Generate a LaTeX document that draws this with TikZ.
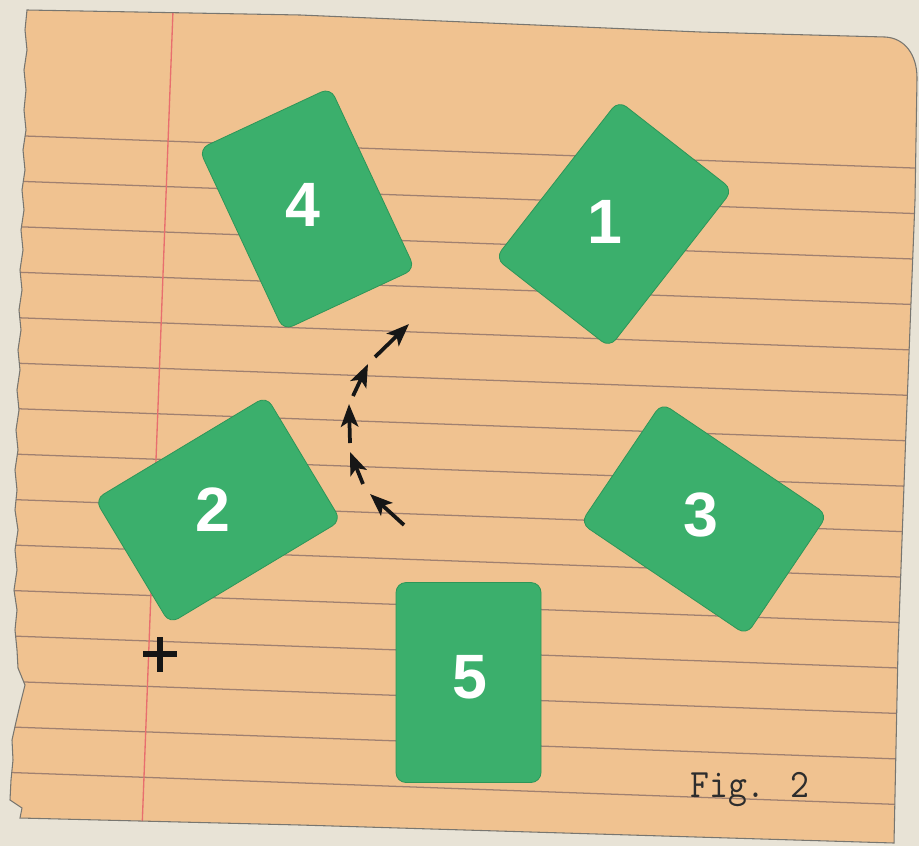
\documentclass[tikz,border=0pt]{standalone}
\usepackage{fontspec}
\newfontfamily\cardfont{Liberation Sans}
\usetikzlibrary{arrows.meta}
\definecolor{bgc}{RGB}{232,227,214}
\definecolor{paper}{RGB}{240,194,144}
\definecolor{rulec}{RGB}{160,128,112}
\definecolor{marginc}{RGB}{232,110,110}
\definecolor{cardg}{RGB}{59,175,108}
\definecolor{cardb}{RGB}{45,150,88}
\definecolor{ink}{RGB}{22,22,22}
\definecolor{edgec}{RGB}{120,118,112}
\tikzset{
  card/.style={rectangle, rounded corners=7.5pt, fill=cardg, draw=cardb, line width=0.6pt,
    minimum width=108.75pt, minimum height=150pt, inner sep=0pt},
  cardnum/.style={text=white, inner sep=0pt, font=\cardfont\bfseries\fontsize{47}{47}\selectfont},
  ruleline/.style={draw=rulec, line width=0.95pt},
  arrowseg/.style={draw=ink, line width=2.8pt, -{Stealth[length=17pt,width=13pt,inset=4pt]}},
  plusbar/.style={draw=ink, line width=4.6pt},
}
\def\paperpath{(27,10) -- (300,15) -- (700,32) -- (885,37)
  .. controls (905,38) and (917,55) .. (917,78)
  -- (915,200) -- (906,430) -- (898,650) -- (894,843)
  -- (300,825) -- (20,818) -- (22,808) -- (10,800) -- (11,780) -- (13,760)
  -- (12,740) -- (16,722) -- (20,705) -- (25,685) -- (18,668) -- (17,650)
  -- (15,630) -- (17,610) -- (14,590) -- (17,570) -- (15,550) -- (18,530)
  -- (15,510) -- (17,490) -- (15,470) -- (18,450) -- (16,430) -- (19,410)
  -- (17,390) -- (20,370) -- (18,350) -- (21,330) -- (19,310) -- (22,290)
  -- (20,270) -- (23,250) -- (21,230) -- (24,210) -- (22,190) -- (25,170)
  -- (23,150) -- (26,130) -- (24,110) -- (26,90) -- (24,70) -- (27,50)
  -- (25,30) -- cycle}
\begin{document}
\begin{tikzpicture}[x=0.75pt,y=-0.75pt]
  \useasboundingbox (0,0) rectangle (919,846);
  \fill[bgc] (0,0) rectangle (919,846);
  % paper
  \fill[paper] \paperpath;
  \begin{scope}
    \clip \paperpath;
    \foreach \k in {0,...,14} {
      \draw[ruleline] (0,{136+45.5*\k-0.9}) -- (919,{136+45.5*\k+32.2});
    }
    \draw[draw=marginc, line width=1pt] (173.4,0) -- (141.6,840);
  \end{scope}
  \draw[draw=edgec, line width=0.8pt] \paperpath;

  % cards
  \node[card, rotate=25] (c4) at (307,209) {};
  \node[card, rotate=-38] (c1) at (614,224) {};
  \node[card, rotate=31, minimum width=150pt, minimum height=108.75pt] (c2) at (218,510) {};
  \node[card, rotate=-34, minimum width=150pt, minimum height=108.75pt] (c3) at (704,519) {};
  \node[card] (c5) at (468.5,682.5) {};

  \node[cardnum] (n4) at (303,205) {4};
  \node[cardnum] (n1) at (605,222) {1};
  \node[cardnum] (n2) at (213,510) {2};
  \node[cardnum] (n3) at (701,515) {3};
  \node[cardnum] (n5) at (470,677) {5};

  % dashed arrow arc
  \coordinate (a0) at (404,525);
  \coordinate (a1) at (370,494);
  \coordinate (a2) at (363,484);
  \coordinate (a3) at (350,452);
  \coordinate (a4) at (350,443);
  \coordinate (a5) at (349,404);
  \coordinate (a6) at (353,396);
  \coordinate (a7) at (368,364);
  \coordinate (a8) at (375,357);
  \coordinate (a9) at (409,324);
  \draw[arrowseg] (a0) -- (a1);
  \draw[arrowseg] (a2) -- (a3);
  \draw[arrowseg] (a4) -- (a5);
  \draw[arrowseg] (a6) -- (a7);
  \draw[arrowseg] (a8) -- (a9);

  % plus sign
  \draw[plusbar] (143,654) -- (177,654);
  \draw[plusbar] (160,637) -- (160,672);

  % caption
  \node[anchor=base west, inner sep=0pt, text=ink!90, yscale=1.1,
        font=\ttfamily\fontsize{27.5}{27.5}\selectfont] (fig) at (690,797) {Fig. 2};
\end{tikzpicture}
\end{document}
